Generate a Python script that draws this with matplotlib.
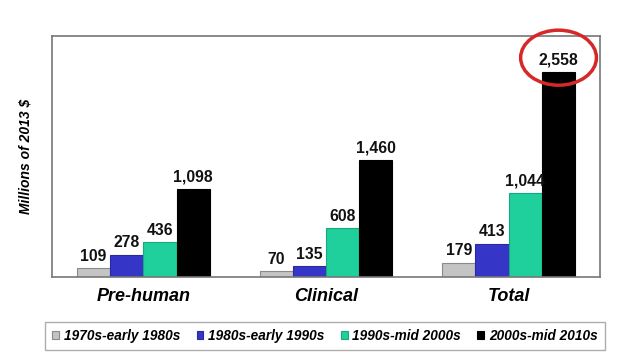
import numpy as np
import matplotlib.pyplot as plt
from matplotlib.patches import Ellipse

categories = ["Pre-human", "Clinical", "Total"]
periods = ["1970s-early 1980s", "1980s-early 1990s", "1990s-mid 2000s", "2000s-mid 2010s"]
values_1970s = [109, 70, 179]
values_1980s = [278, 135, 413]
values_1990s = [436, 608, 1044]
values_2000s = [1098, 1460, 2558]

colors = ["#c4c4c4", "#3535c8", "#1fd09c", "#000000"]
edges = ["#8a8a8a", "#2a2aa0", "#18a87e", "#000000"]

plt.rcParams['font.family'] = ['Liberation Sans', 'DejaVu Sans']

fig = plt.figure(figsize=(6.24, 3.59), dpi=100)
ax = fig.add_axes([52 / 624, 1 - 277 / 359, 548 / 624, 241 / 359])

x = np.arange(len(categories))
width = 0.182
series = [values_1970s, values_1980s, values_1990s, values_2000s]
handles = []
for i, vals in enumerate(series):
    pos = x + (i - 1.5) * width
    b = ax.bar(pos, vals, width, color=colors[i], edgecolor=edges[i], linewidth=0.8,
               label=periods[i])
    handles.append(b)
    for p, v in zip(pos, vals):
        ax.text(p, v + 55, f"{v:,}", ha='center', va='bottom', fontsize=11.3,
                fontweight='bold', color='#111111')

ax.set_xlim(-0.5, 2.5)
ax.set_ylim(0, 3000)
ax.set_yticks([])
ax.set_xticks(x)
ax.set_xticklabels(categories, fontsize=13, fontweight='bold', style='italic')
ax.tick_params(axis='x', length=0, pad=8)
for s in ax.spines.values():
    s.set_color('#777777')
    s.set_linewidth(1.2)
ax.set_ylabel("Millions of 2013 $", fontsize=10, fontweight='bold', style='italic',
              labelpad=14)

# red circle around the highest value
top_x = x[2] + 1.5 * width
ax.add_patch(Ellipse((top_x, 2730), 0.415, 685, fill=False, edgecolor='#d62828',
                     linewidth=2.5, clip_on=False, zorder=5))

leg = fig.legend(handles=handles, labels=periods, loc='center',
                 bbox_to_anchor=(325 / 624, 1 - 336 / 359), ncol=4,
                 prop={'weight': 'bold', 'style': 'italic', 'size': 9.8},
                 handlelength=0.5, handleheight=0.5, handletextpad=0.35,
                 columnspacing=1.2, frameon=True, fancybox=False,
                 borderpad=0.55)
leg.get_frame().set_edgecolor('#999999')
leg.get_frame().set_linewidth(1.0)

fig.savefig("out.png", dpi=100)
